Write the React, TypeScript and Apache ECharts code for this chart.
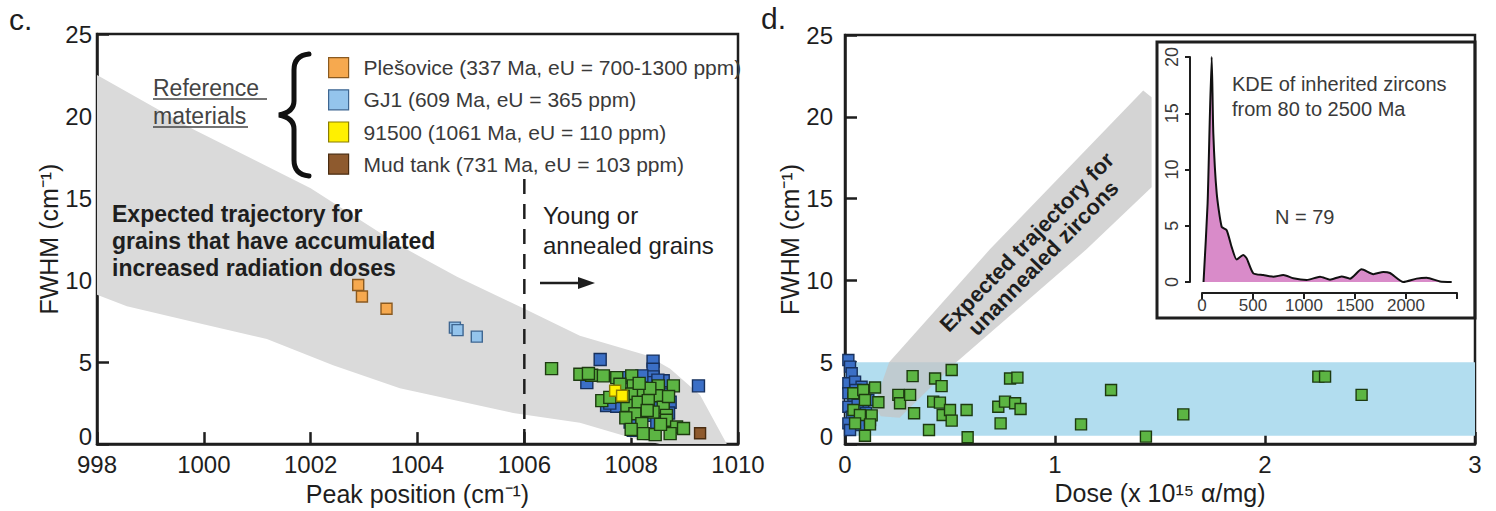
import React, { useEffect, useRef } from 'react';
import * as echarts from 'echarts';

const FONT = '"Liberation Sans", Arial, Helvetica, sans-serif';
const INK = '#1e1e1e';
const SOFT = '#3a3a3a';

// ---------------- panel c : FWHM vs peak position ----------------
const peakMin = 998;
const peakMax = 1010;
const peakStep = 2;
const fwhmMin = 0;
const fwhmMax = 25;
const fwhmStep = 5;

const refNames = [
  'Plešovice (337 Ma, eU = 700-1300 ppm)',
  'GJ1 (609 Ma, eU = 365 ppm)',
  '91500 (1061 Ma, eU = 110 ppm)',
  'Mud tank (731 Ma, eU = 103 ppm)',
];
const refColors = ['#f6a94f', '#94c4ec', '#fff000', '#8e5a2e'];
const refBorders = ['#8a5a20', '#3e6691', '#8a7d00', '#4a2c10'];

const plesovice = [[1002.89, 9.7], [1002.96, 9.0], [1003.42, 8.25]];
const gj1 = [[1004.7, 7.1], [1004.75, 6.95], [1005.11, 6.55]];
const std91500 = [[1007.7, 3.25], [1007.83, 2.95]];
const mudTank = [[1009.29, 0.66]];

const samplesBlueC = [
  [1007.42, 5.16], [1008.41, 5.06], [1008.41, 4.56], [1008.41, 4.1], [1009.26, 3.55],
  [1007.17, 3.75], [1008.29, 3.75], [1008.6, 3.86], [1007.88, 4.05], [1008.2, 4.16],
  [1008.38, 3.15], [1008.66, 3.05], [1007.54, 2.35], [1007.73, 2.31], [1008.73, 2.55],
  [1008.55, 2.4], [1008.29, 1.75], [1007.98, 1.34], [1008.48, 1.34], [1008.04, 0.84],
  [1007.6, 2.5], [1008.5, 3.9], [1008.7, 1.9],
];
const samplesGreenC = [
  [1006.51, 4.6], [1007.04, 4.26], [1007.26, 4.2], [1007.48, 4.16], [1007.73, 4.05],
  [1008.01, 4.16], [1007.79, 3.65], [1008.04, 3.55], [1008.51, 3.55], [1008.79, 3.55],
  [1008.01, 3.05], [1008.23, 3.15], [1008.48, 2.95], [1007.45, 2.65], [1007.6, 2.85],
  [1007.92, 2.35], [1008.13, 2.55], [1008.32, 2.65], [1008.6, 2.25], [1008.07, 1.85],
  [1008.41, 1.95], [1008.66, 1.75], [1008.2, 1.25], [1008.66, 1.45], [1008.85, 1.04],
  [1008.98, 0.95], [1008.23, 0.64], [1008.45, 0.58], [1008.73, 0.64], [1007.9, 1.6],
  [1008.3, 2.05], [1008.55, 1.2], [1008.35, 3.4], [1008.7, 2.9], [1008.15, 3.7],
  [1007.85, 2.9], [1008.0, 0.9], [1007.2, 4.3],
];

// grey envelope: "expected trajectory" (upper and lower edges)
const envelopeUpper = [
  [998, 22.5], [999.8, 19.2], [1002.0, 15.6], [1003.67, 12.1], [1004.74, 10.2],
  [1006.03, 8.2], [1007.04, 6.6], [1008.3, 5.4], [1008.73, 4.6], [1009.29, 3.0], [1009.79, 0],
];
const envelopeLower = [
  [998, 9.1], [998.56, 8.4], [999.93, 7.35], [1001.18, 6.4], [1002.42, 4.8],
  [1003.67, 3.4], [1005.79, 1.9], [1007.04, 1.3], [1007.98, 0.4], [1008.54, 0],
];
const annealLine = [[1006, 0], [1006, 16.2]];

// ---------------- panel d : FWHM vs dose ----------------
const doseMin = 0;
const doseMax = 3;
const doseStep = 1;
const annealedBand = [[0, 0.5], [3, 0.5], [3, 5], [0, 5]];
const trajectoryBand = [
  [0.14, 2.4], [0.21, 5.0], [0.69, 11.9], [1.42, 21.6], [1.46, 21.2],
  [1.46, 15.7], [1.15, 11.9], [0.53, 5.0], [0.26, 1.6], [0.17, 1.7],
];
const samplesBlueD = [
  [0.016, 5.13], [0.024, 4.73], [0.032, 4.32], [0.016, 3.71], [0.048, 3.81], [0.079, 3.5],
  [0.016, 3.1], [0.04, 2.79], [0.111, 2.69], [0.016, 2.28], [0.087, 2.08], [0.032, 1.67],
  [0.016, 1.26], [0.071, 1.16], [0.119, 1.47], [0.024, 0.86], [0.06, 2.4], [0.05, 3.3], [0.1, 1.9],
];
const samplesGreenD = [
  [0.04, 3.1], [0.087, 3.3], [0.143, 3.45], [0.095, 2.69], [0.159, 2.55], [0.04, 2.08],
  [0.071, 1.77], [0.127, 1.75], [0.048, 1.26], [0.119, 1.2], [0.095, 0.5], [0.254, 3.0],
  [0.262, 2.49], [0.31, 3.0], [0.322, 4.15], [0.329, 1.88], [0.4, 0.86], [0.429, 4.0],
  [0.46, 3.54], [0.42, 2.59], [0.452, 2.53], [0.465, 1.77], [0.5, 2.08], [0.508, 1.43],
  [0.508, 4.52], [0.579, 2.08], [0.584, 0.41], [0.73, 2.28], [0.741, 1.26], [0.762, 2.59],
  [0.786, 4.0], [0.821, 4.06], [0.81, 2.49], [0.836, 2.14], [1.124, 1.2], [1.267, 3.3],
  [1.433, 0.45], [1.611, 1.81], [2.254, 4.12], [2.286, 4.12], [2.46, 3.0],
];

// ---------------- inset : KDE of inherited zircon ages ----------------
const kdeAgeMax = 2500;
const kdeAgeStep = 500;
const kdeDensityMax = 20;
const kdeDensityStep = 5;
const kdeAge = [15, 55, 95, 111, 144, 193, 242, 291, 340, 405, 438, 503, 601, 699, 797, 895,
  1026, 1157, 1255, 1369, 1451, 1565, 1680, 1778, 1843, 1974, 2104, 2202, 2333, 2448];
const kdeDensity = [0, 7, 20, 13.2, 7.9, 4.9, 4.6, 3.1, 2.0, 2.4, 2.1, 0.77, 0.62, 0.47, 0.62, 0.33,
  0.18, 0.47, 0.21, 0.5, 0.3, 1.13, 0.7, 0.9, 0.8, 0, 0.3, 0.38, 0.05, 0];

const BRACE_D = 'M30 0 C20 1 15 6 15 16 L15 47 C15 55 10 59 0 61 C10 63 15 67 15 75 L15 106 C15 116 20 121 30 122';
try {
  echarts.graphic.registerShape('brace', echarts.graphic.extendPath(BRACE_D, {}) as any);
} catch (e) {
  /* already registered */
}

function polygonSeries(pts: number[][], xi: number, yi: number, style: any, z: number) {
  return {
    type: 'custom',
    xAxisIndex: xi,
    yAxisIndex: yi,
    z,
    silent: true,
    data: [pts[0]],
    renderItem: (_p: any, api: any) => ({
      type: 'polygon',
      shape: { points: pts.map((p) => api.coord(p)) },
      style,
    }),
  };
}

// the 0 tick label of the y axes sits a little above the axis corner, as in the original
const zeroRaised = (v: number) => (v === 0 ? '{lo|0}' : String(v));

function valueAxis(o: any) {
  return {
    type: 'value',
    gridIndex: o.grid,
    min: o.min,
    max: o.max,
    interval: o.interval,
    name: o.name,
    nameLocation: 'middle',
    nameGap: o.nameGap,
    nameTextStyle: { color: INK, fontSize: 25, fontFamily: FONT },
    axisLine: { show: true, onZero: false, lineStyle: { color: INK, width: 2.5 } },
    axisTick: { show: true, inside: true, length: 12, lineStyle: { color: INK, width: 2.5 } },
    splitLine: { show: false },
    axisLabel: {
      color: INK, fontSize: 24, fontFamily: FONT, margin: o.margin,
      formatter: o.raiseZero ? zeroRaised : (v: number) => String(v),
      rich: { lo: { fontSize: 24, fontFamily: FONT, color: INK, padding: [0, 0, 16, 0] } },
    },
  };
}

function squareScatter(name: string, data: number[][], fill: string, border: string, size: number, xi: number, yi: number, z: number) {
  return {
    type: 'scatter',
    name,
    xAxisIndex: xi,
    yAxisIndex: yi,
    data,
    symbol: 'rect',
    symbolSize: size,
    z,
    itemStyle: { color: fill, borderColor: border, borderWidth: 1.4, opacity: 1 },
  };
}

function buildOption(): any {
  const envelope = envelopeUpper.concat(envelopeLower.slice().reverse());
  const refData = [plesovice, gj1, std91500, mudTank];

  return {
    animation: false,
    backgroundColor: '#ffffff',
    textStyle: { fontFamily: FONT },
    grid: [
      { left: 97, top: 34, width: 641, height: 415, show: true, borderColor: INK, borderWidth: 2.5 },
      { left: 845, top: 35, width: 630, height: 409, show: true, borderColor: INK, borderWidth: 2.5 },
      { left: 1202, top: 57, width: 255, height: 225 },
    ],
    xAxis: [
      valueAxis({ grid: 0, min: peakMin, max: peakMax, interval: peakStep, name: 'Peak position (cm⁻¹)', nameGap: 33, margin: 8 }),
      valueAxis({ grid: 1, min: doseMin, max: doseMax, interval: doseStep, name: 'Dose (x 10¹⁵ α/mg)', nameGap: 35, margin: 8 }),
      {
        type: 'value', gridIndex: 2, min: 0, max: kdeAgeMax, interval: kdeAgeStep, offset: 11,
        axisLine: { show: true, onZero: false, lineStyle: { color: INK, width: 2 } },
        axisTick: { show: true, inside: false, length: 6, lineStyle: { color: INK, width: 2 } },
        splitLine: { show: false },
        axisLabel: { color: SOFT, fontSize: 17, fontFamily: FONT, margin: 4, formatter: (v: number) => (v === kdeAgeMax ? '' : String(v)) },
      },
    ],
    yAxis: [
      valueAxis({ grid: 0, min: fwhmMin, max: fwhmMax, interval: fwhmStep, name: 'FWHM (cm⁻¹)', nameGap: 36, margin: 5, raiseZero: true }),
      valueAxis({ grid: 1, min: fwhmMin, max: fwhmMax, interval: fwhmStep, name: 'FWHM (cm⁻¹)', nameGap: 28, margin: 12, raiseZero: true }),
      {
        type: 'value', gridIndex: 2, min: 0, max: kdeDensityMax, interval: kdeDensityStep, offset: 12,
        axisLine: { show: true, onZero: false, lineStyle: { color: INK, width: 2 } },
        axisTick: { show: true, inside: false, length: 5, lineStyle: { color: INK, width: 2 } },
        splitLine: { show: false },
        axisLabel: { color: SOFT, fontSize: 18, fontFamily: FONT, margin: 9, rotate: 90 },
      },
    ],
    legend: {
      data: refNames,
      orient: 'vertical',
      left: 323,
      top: 52,
      itemWidth: 20,
      itemHeight: 20,
      itemGap: 11,
      icon: 'rect',
      selectedMode: false,
      itemStyle: { borderWidth: 1.2 },
      textStyle: { fontSize: 21, color: SOFT, fontFamily: FONT, padding: [0, 0, 0, 10] },
    },
    series: [
      polygonSeries(envelope, 0, 0, { fill: '#dadada' }, 1),
      {
        type: 'line', xAxisIndex: 0, yAxisIndex: 0, data: annealLine, symbol: 'none', z: 3, silent: true,
        lineStyle: { color: INK, width: 2.5, type: [15, 10] },
      },
      squareScatter('samples (group B)', samplesBlueC, '#3b6fc6', '#17305c', 12, 0, 0, 4),
      squareScatter('samples (group A)', samplesGreenC, '#5cb543', '#1d3a10', 12, 0, 0, 5),
      ...refNames.map((n, i) => squareScatter(n, refData[i], refColors[i], refBorders[i], 11, 0, 0, 6)),

      polygonSeries(annealedBand, 1, 1, { fill: '#b2ddef' }, 1),
      polygonSeries(trajectoryBand, 1, 1, { fill: '#c4c4c4', opacity: 0.72 }, 2),
      squareScatter('samples (group B) dose', samplesBlueD, '#3b6fc6', '#17305c', 11, 1, 1, 4),
      squareScatter('samples (group A) dose', samplesGreenD, '#5cb543', '#1d3a10', 11, 1, 1, 5),

      {
        type: 'line', name: 'KDE', xAxisIndex: 2, yAxisIndex: 2, z: 4, silent: true,
        data: kdeAge.map((a, i) => [a, kdeDensity[i]]),
        symbol: 'none', smooth: 0.2,
        lineStyle: { color: '#111', width: 2 },
        areaStyle: { color: '#d98bc9', opacity: 1 },
      },
    ],
    graphic: [
      { type: 'rect', z: -10, shape: { x: 1157, y: 42, width: 318, height: 276 }, style: { fill: '#ffffff', stroke: INK, lineWidth: 3 } },
      { type: 'text', z: 10, x: 9, y: 4, style: { text: 'c.', fontSize: 30, fontFamily: FONT, fill: INK, textAlign: 'left', textVerticalAlign: 'top' } },
      { type: 'text', z: 10, x: 761, y: 3, style: { text: 'd.', fontSize: 30, fontFamily: FONT, fill: INK, textAlign: 'left', textVerticalAlign: 'top' } },
      { type: 'text', z: 10, x: 153, y: 88, style: { text: 'Reference', fontSize: 23, fontFamily: FONT, fill: '#444', textAlign: 'left', textVerticalAlign: 'middle' } },
      { type: 'text', z: 10, x: 153, y: 116, style: { text: 'materials', fontSize: 23, fontFamily: FONT, fill: '#444', textAlign: 'left', textVerticalAlign: 'middle' } },
      { type: 'line', z: 10, shape: { x1: 153, y1: 99, x2: 267, y2: 99 }, style: { stroke: '#444', lineWidth: 1.6 } },
      { type: 'line', z: 10, shape: { x1: 153, y1: 127, x2: 248, y2: 127 }, style: { stroke: '#444', lineWidth: 1.6 } },
      { type: 'brace', z: 10, x: 279, y: 54, style: { stroke: '#111', fill: 'none', lineWidth: 5, lineCap: 'round' } },
      {
        type: 'text', z: 10, x: 112, y: 200,
        style: { text: 'Expected trajectory for\ngrains that have accumulated\nincreased radiation doses', fontSize: 23, fontWeight: 'bold', lineHeight: 27, fontFamily: FONT, fill: INK, textAlign: 'left', textVerticalAlign: 'top' },
      },
      {
        type: 'text', z: 10, x: 543, y: 200,
        style: { text: 'Young or\nannealed grains', fontSize: 24, lineHeight: 30, fontFamily: FONT, fill: INK, textAlign: 'left', textVerticalAlign: 'top' },
      },
      { type: 'line', z: 10, shape: { x1: 540, y1: 283, x2: 582, y2: 283 }, style: { stroke: INK, lineWidth: 2.5 } },
      { type: 'polygon', z: 10, shape: { points: [[595, 283], [578, 277], [578, 289]] }, style: { fill: INK } },
      {
        type: 'text', z: 10, x: 1035, y: 250, rotation: (46 * Math.PI) / 180,
        style: { text: 'Expected trajectory for\nunannealed zircons', fontSize: 22, fontWeight: 'bold', lineHeight: 23, fontFamily: FONT, fill: INK, textAlign: 'center', textVerticalAlign: 'middle' },
      },
      {
        type: 'text', z: 10, x: 1232, y: 71,
        style: { text: 'KDE of inherited zircons\nfrom 80 to 2500 Ma', fontSize: 20, lineHeight: 25, fontFamily: FONT, fill: SOFT, textAlign: 'left', textVerticalAlign: 'top' },
      },
      { type: 'text', z: 10, x: 1275, y: 217, style: { text: 'N = 79', fontSize: 20, fontFamily: FONT, fill: SOFT, textAlign: 'left', textVerticalAlign: 'middle' } },
    ],
  };
}

export default function App() {
  const ref = useRef<HTMLDivElement>(null);
  useEffect(() => {
    if (!ref.current) return;
    const chart = echarts.init(ref.current, null, { renderer: 'svg' });
    chart.setOption(buildOption());
    return () => chart.dispose();
  }, []);
  return (
    <div
      ref={ref}
      style={{ position: 'fixed', left: 0, top: 0, width: 1496, height: 511, background: '#ffffff' }}
    />
  );
}
